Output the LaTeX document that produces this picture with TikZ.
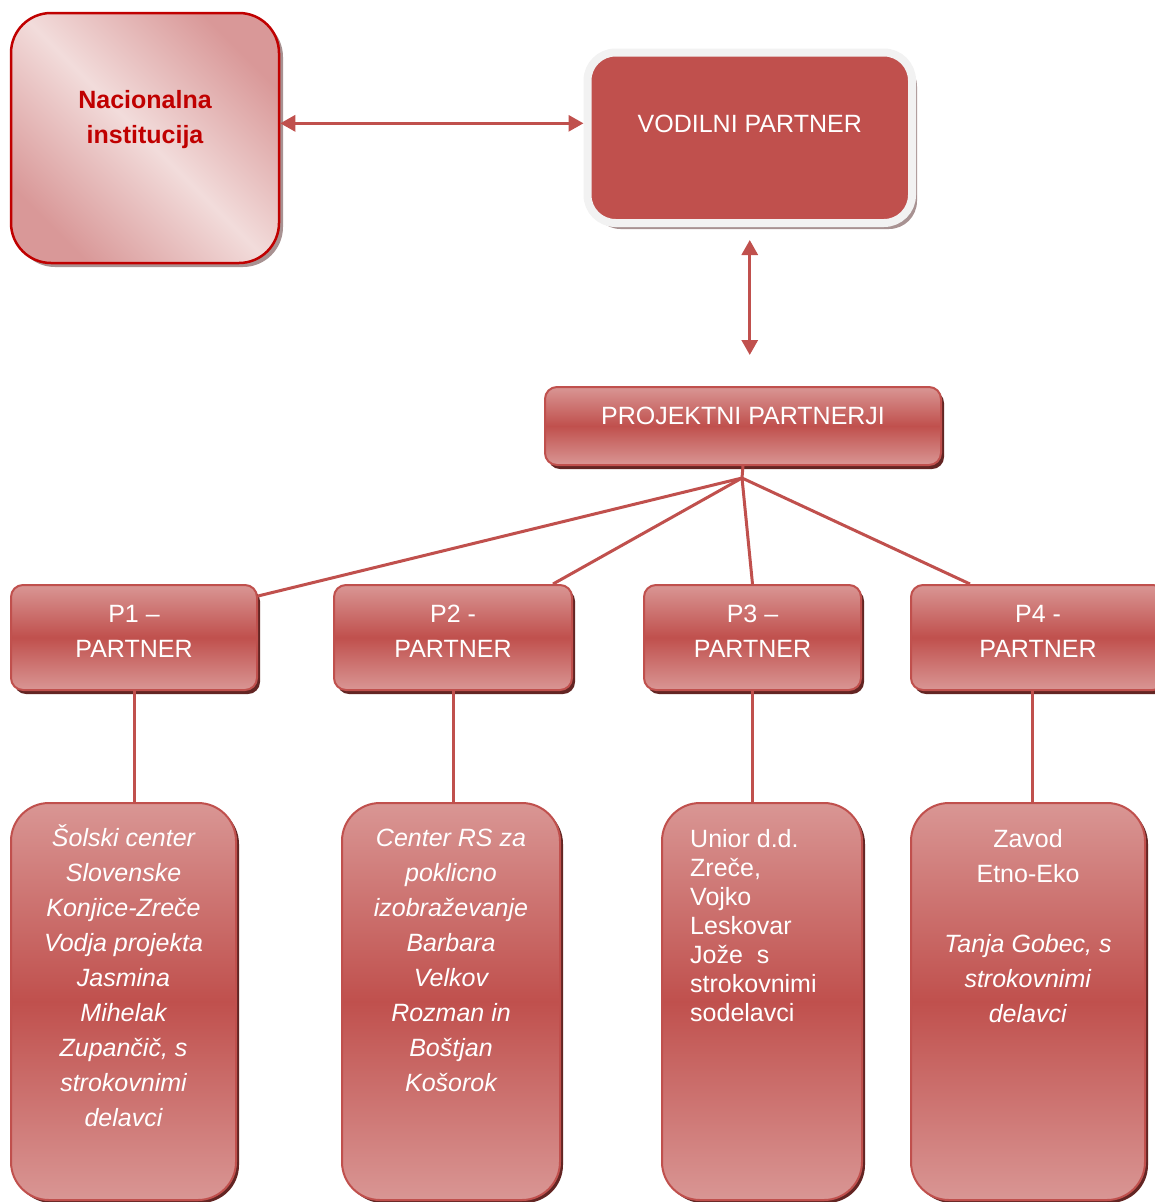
\documentclass[tikz,border=0pt]{standalone}
\usepackage{fontspec}
\setmainfont{Liberation Sans}
\usetikzlibrary{arrows.meta, positioning, shadows}
\definecolor{accentRed}{HTML}{C0504D}
\definecolor{lightRed}{HTML}{D99694}
\definecolor{darkRed}{HTML}{632523}
\definecolor{nacRed}{HTML}{C00000}
\definecolor{nacPale}{HTML}{F2DCDB}
\definecolor{nacRose}{HTML}{D99898}
\definecolor{frameGray}{HTML}{F2F2F2}
\definecolor{shadowGray}{HTML}{A89292}
\tikzstyle{nacNode} = [rectangle, rounded corners=40pt, minimum width=268pt, minimum height=250pt, draw=nacRed, line width=2.5pt, left color=nacRose, right color=nacRose, middle color=nacPale, shading angle=-45, drop shadow={shadow xshift=4pt, shadow yshift=-4pt, fill=shadowGray, opacity=1}]
\tikzstyle{leadNode} = [rectangle, rounded corners=28pt, minimum width=324.5pt, minimum height=170.5pt, fill=accentRed, draw=frameGray, line width=8pt, drop shadow={shadow xshift=5pt, shadow yshift=-6pt, fill=shadowGray, opacity=1}]
\tikzstyle{barNode} = [rectangle, rounded corners=12pt, draw=accentRed, line width=2pt, top color=lightRed, bottom color=lightRed, middle color=accentRed, text=white, font=\fontsize{25pt}{35pt}\selectfont, align=center, drop shadow={shadow xshift=3pt, shadow yshift=-4pt, fill=darkRed, opacity=1}]
\tikzstyle{memberNode} = [rectangle, rounded corners=38pt, draw=accentRed, line width=2pt, top color=lightRed, bottom color=lightRed, middle color=accentRed, minimum height=397pt, drop shadow={shadow xshift=3pt, shadow yshift=-3pt, fill=darkRed, opacity=1}]
\tikzstyle{memberText} = [text=white, font=\fontsize{25pt}{35pt}\selectfont, align=center, inner sep=0pt]
\tikzstyle{memberItalic} = [memberText, font=\fontsize{25pt}{35pt}\selectfont\itshape]
\tikzstyle{nacLabel} = [text=nacRed, font=\fontsize{25pt}{35pt}\selectfont\bfseries, align=center, inner sep=0pt]
\tikzstyle{leadLabel} = [text=white, font=\fontsize{25pt}{35pt}\selectfont, inner sep=0pt, text height=18pt]
\tikzstyle{arrowR} = [line width=3pt, draw=accentRed, <->, >={Triangle[length=15pt, width=16pt]}]
\tikzstyle{link} = [line width=3pt, draw=accentRed]

\begin{document}
\begin{tikzpicture}[x=1pt, y=-1pt]
    \useasboundingbox (0,0) rectangle (1155,1202);

    \node (nac) [nacNode] at (145,138) {};
    \node (nacText) [nacLabel, below=78pt of nac.north] {Nacionalna\\institucija};
    \node (lead) [leadNode] at (749.75,137.75) {};
    \node (leadText) [leadLabel, below=65.5pt of lead.north] {VODILNI PARTNER};

    \node (proj) [barNode, minimum width=396pt, minimum height=78pt, text height=18pt, text depth=22pt] at (743,426) {PROJEKTNI PARTNERJI};

    \node (p1) [barNode, minimum width=246pt, minimum height=105pt, text depth=12pt] at (134,637.5) {P1 –\\PARTNER};
    \node (p2) [barNode, minimum width=238pt, minimum height=105pt, text depth=12pt] at (453,637.5) {P2 -\\PARTNER};
    \node (p3) [barNode, minimum width=217pt, minimum height=105pt, text depth=12pt] at (752.5,637.5) {P3 –\\PARTNER};
    \node (p4) [barNode, minimum width=254pt, minimum height=105pt, text depth=12pt] at (1038,637.5) {P4 -\\PARTNER};

    \node (b1) [memberNode, minimum width=225pt] at (123.5,1001.5) {};
    \node (b2) [memberNode, minimum width=218pt] at (451,1001.5) {};
    \node (b3) [memberNode, minimum width=200pt] at (762,1001.5) {};
    \node (b4) [memberNode, minimum width=234pt] at (1028,1001.5) {};

    \node (b1Text) [memberItalic, below=22.5pt of b1.north] {Šolski center\\Slovenske\\Konjice-Zreče\\Vodja projekta\\Jasmina\\Mihelak\\Zupančič, s\\strokovnimi\\delavci};
    \node (b2Text) [memberItalic, below=27pt of b2.north] {Center RS za\\poklicno\\izobraževanje\\Barbara\\Velkov\\Rozman in\\Boštjan\\Košorok};
    \node (b3Text) [memberText, align=left, font=\fontsize{25pt}{29pt}\selectfont, below right=27pt and 29pt of b3.north west] {Unior d.d.\\Zreče,\\Vojko\\Leskovar\\Jože \ s\\strokovnimi\\sodelavci};
    \node (b4Text) [memberText, below=27pt of b4.north] {Zavod\\Etno-Eko\\[35pt]\textit{Tanja Gobec, s}\\\textit{strokovnimi}\\\textit{delavci}};

    \draw [arrowR] (nac.east |- leadText) -- (lead.west |- leadText);
    \draw [arrowR, shorten <=13pt, shorten >=31pt] (lead.south) -- (lead.south |- proj.north);

    \coordinate (hub) at (742,478);
    \draw [link] (proj.south) -- (hub);
    \draw [link] (hub) -- ([yshift=-12pt]p1.north east);
    \draw [link] (hub) -- ([xshift=-20pt]p2.north east);
    \draw [link] (hub) -- (p3.north);
    \draw [link] (hub) -- ([xshift=60pt]p4.north west);

    \draw [link] (p1.south) -- (p1.south |- b1.north);
    \draw [link] (p2.south) -- (p2.south |- b2.north);
    \draw [link] (p3.south) -- (p3.south |- b3.north);
    \draw [link] ([xshift=-6pt]p4.south) -- ([xshift=-6pt]p4.south |- b4.north);
\end{tikzpicture}
\end{document}
